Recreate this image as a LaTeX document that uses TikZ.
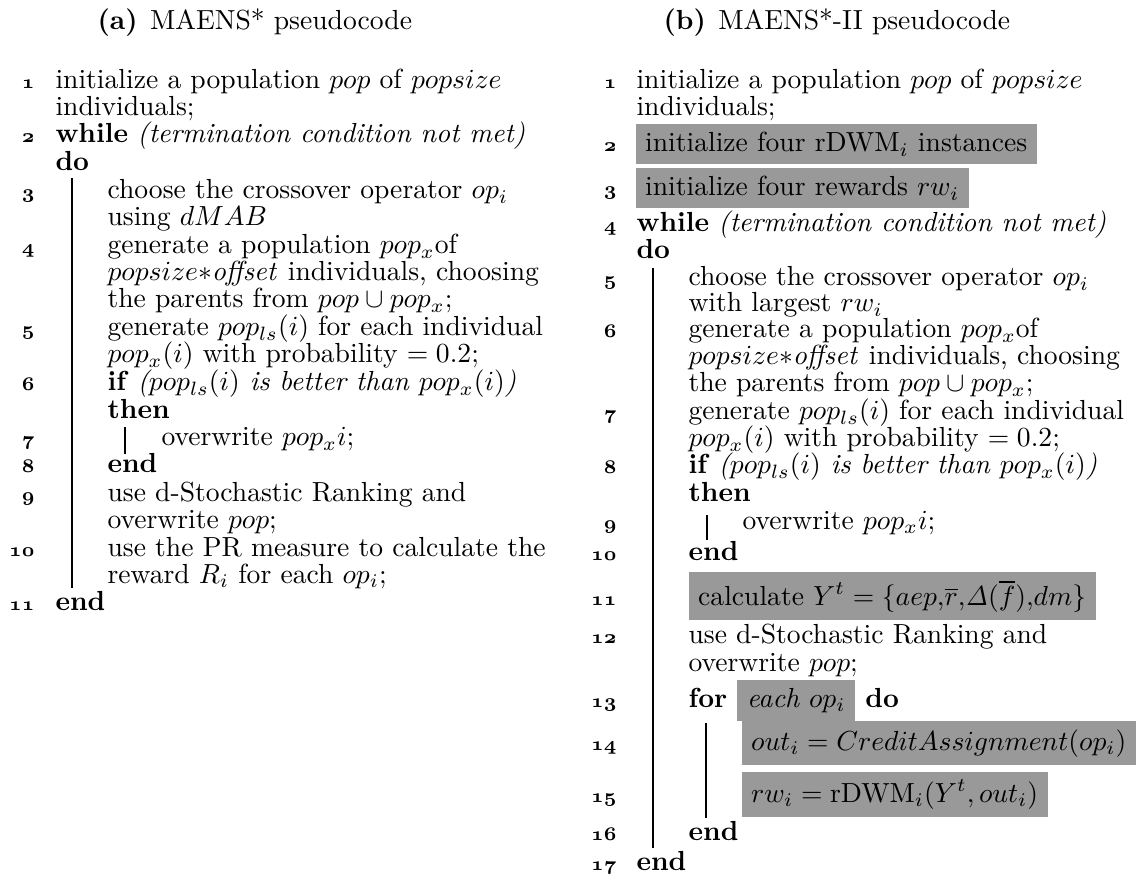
\documentclass[tikz,border=0pt]{standalone}
\usetikzlibrary{positioning}
\definecolor{hlgray}{RGB}{153,153,153}
\tikzset{
    txt/.style={anchor=base west, inner sep=0pt},
    lnum/.style={anchor=base east, inner sep=0pt, font=\fontsize{7.5}{9}\selectfont\boldmath},
    hl/.style={anchor=base west, fill=hlgray, inner xsep=3.5pt, inner ysep=3pt},
    vbar/.style={line width=0.5pt}
}
\begin{document}
\begin{tikzpicture}[x=0.3623pt, y=-0.3623pt]
        \useasboundingbox (0,0) rectangle (1140,877);
        
        % Captions
        \node[txt] (capA) at (97,30) {\textbf{(a)}\hspace{0.45em}MAENS* pseudocode};
        \node[txt] (capB) at (663,30) {\textbf{(b)}\hspace{0.45em}MAENS*-II pseudocode};
        
        % Line numbers
        \foreach \n/\y in {1/89, 2/143, 3/199, 4/254, 5/336, 6/391, 7/446, 8/473, 9/501, 10/556, 11/610}
            \node[lnum] (na\n) at (35,\y) {$\mathnormal{\n}$};
        \foreach \n/\y in {1/89, 2/152, 3/196, 4/232, 5/286, 6/338, 7/420, 8/474, 9/529, 10/560, 11/605, 12/643, 13/707, 14/750, 15/802, 16/840, 17/870}
            \node[lnum] (nb\n) at (617,\y) {$\mathnormal{\n}$};
        
        % Left algorithm
        \node[txt] (a1) at (55,89) {initialize a population $pop$ of $popsize$};
        \node[txt] (a1b) at (55,116) {individuals;};
        \node[txt] (a2) at (55,143) {\textbf{while} \textit{(termination condition not met)}};
        \node[txt] (a2b) at (55,171) {\textbf{do}};
        \node[txt] (a3) at (107,199) {choose the crossover operator $op_i$};
        \node[txt] (a3b) at (107,226) {using $dMAB$};
        \node[txt] (a4) at (107,254) {generate a population $pop_x$of};
        \node[txt] (a4b) at (107,281) {$popsize{*}\mathit{offset}$ individuals, choosing};
        \node[txt] (a4c) at (107,308) {the parents from $pop\cup pop_x$;};
        \node[txt] (a5) at (107,336) {generate $pop_{ls}(i)$ for each individual};
        \node[txt] (a5b) at (107,363) {$pop_x(i)$ with probability $=0.2$;};
        \node[txt] (a6) at (107,391) {\textbf{if} \textit{($pop_{ls}(i)$ is better than $pop_x(i)$)}};
        \node[txt] (a6b) at (107,418) {\textbf{then}};
        \node[txt] (a7) at (161,446) {overwrite $pop_x i$;};
        \node[txt] (a8) at (107,473) {\textbf{end}};
        \node[txt] (a9) at (107,501) {use d-Stochastic Ranking and};
        \node[txt] (a9b) at (107,528) {overwrite $pop$;};
        \node[txt] (a10) at (107,556) {use the PR measure to calculate the};
        \node[txt] (a10b) at (107,583) {reward $R_i$ for each $op_i$;};
        \node[txt] (a11) at (55,610) {\textbf{end}};
        
        % Left block lines
        \coordinate (wA1) at (72,178);
        \coordinate (wA2) at (72,588);
        \coordinate (iA1) at (125,427);
        \coordinate (iA2) at (125,454);
        \draw[vbar] (wA1) -- (wA2);
        \draw[vbar] (iA1) -- (iA2);
        
        % Right algorithm
        \node[txt] (b1) at (636,89) {initialize a population $pop$ of $popsize$};
        \node[txt] (b1b) at (636,116) {individuals;};
        \node[hl] (b2) at (635,152) {initialize four rDWM$_i$ instances};
        \node[hl] (b3) at (635,196) {initialize four rewards $rw_i$};
        \node[txt] (b4) at (636,232) {\textbf{while} \textit{(termination condition not met)}};
        \node[txt] (b4b) at (636,259) {\textbf{do}};
        \node[txt] (b5) at (688,286) {choose the crossover operator $op_i$};
        \node[txt] (b5b) at (688,312) {with largest $rw_i$};
        \node[txt] (b6) at (688,338) {generate a population $pop_x$of};
        \node[txt] (b6b) at (688,365) {$popsize{*}\mathit{offset}$ individuals, choosing};
        \node[txt] (b6c) at (688,392) {the parents from $pop\cup pop_x$;};
        \node[txt] (b7) at (688,420) {generate $pop_{ls}(i)$ for each individual};
        \node[txt] (b7b) at (688,447) {$pop_x(i)$ with probability $=0.2$;};
        \node[txt] (b8) at (688,474) {\textbf{if} \textit{($pop_{ls}(i)$ is better than $pop_x(i)$)}};
        \node[txt] (b8b) at (688,501) {\textbf{then}};
        \node[txt] (b9) at (742,529) {overwrite $pop_x i$;};
        \node[txt] (b10) at (688,560) {\textbf{end}};
        \node[hl] (b11) at (688,605) {calculate $Y^t=\{aep{,}\overline{r}{,}\mathit{\Delta}(\overline{f}){,}dm\}$};
        \node[txt] (b12) at (688,643) {use d-Stochastic Ranking and};
        \node[txt] (b12b) at (688,671) {overwrite $pop$;};
        \node[txt] (b13) at (688,707) {\textbf{for}};
        \node[hl, right=3.3pt of b13.base east, anchor=base west] (b13c) {\textit{each} $op_i$};
        \node[txt, right=3.3pt of b13c.base east, anchor=base west] (b13d) {\textbf{do}};
        \node[hl] (b14) at (741,750) {$out_i=CreditAssignment(op_i)$};
        \node[hl] (b15) at (741,802) {$rw_i=\mathrm{rDWM}_i(Y^t,out_i)$};
        \node[txt] (b16) at (688,840) {\textbf{end}};
        \node[txt] (b17) at (636,870) {\textbf{end}};
        
        % Right block lines
        \coordinate (wB1) at (653,268);
        \coordinate (wB2) at (653,848);
        \coordinate (iB1) at (707,515);
        \coordinate (iB2) at (707,540);
        \coordinate (fB1) at (706,723);
        \coordinate (fB2) at (706,818);
        \draw[vbar] (wB1) -- (wB2);
        \draw[vbar] (iB1) -- (iB2);
        \draw[vbar] (fB1) -- (fB2);
    \end{tikzpicture}
\end{document}
